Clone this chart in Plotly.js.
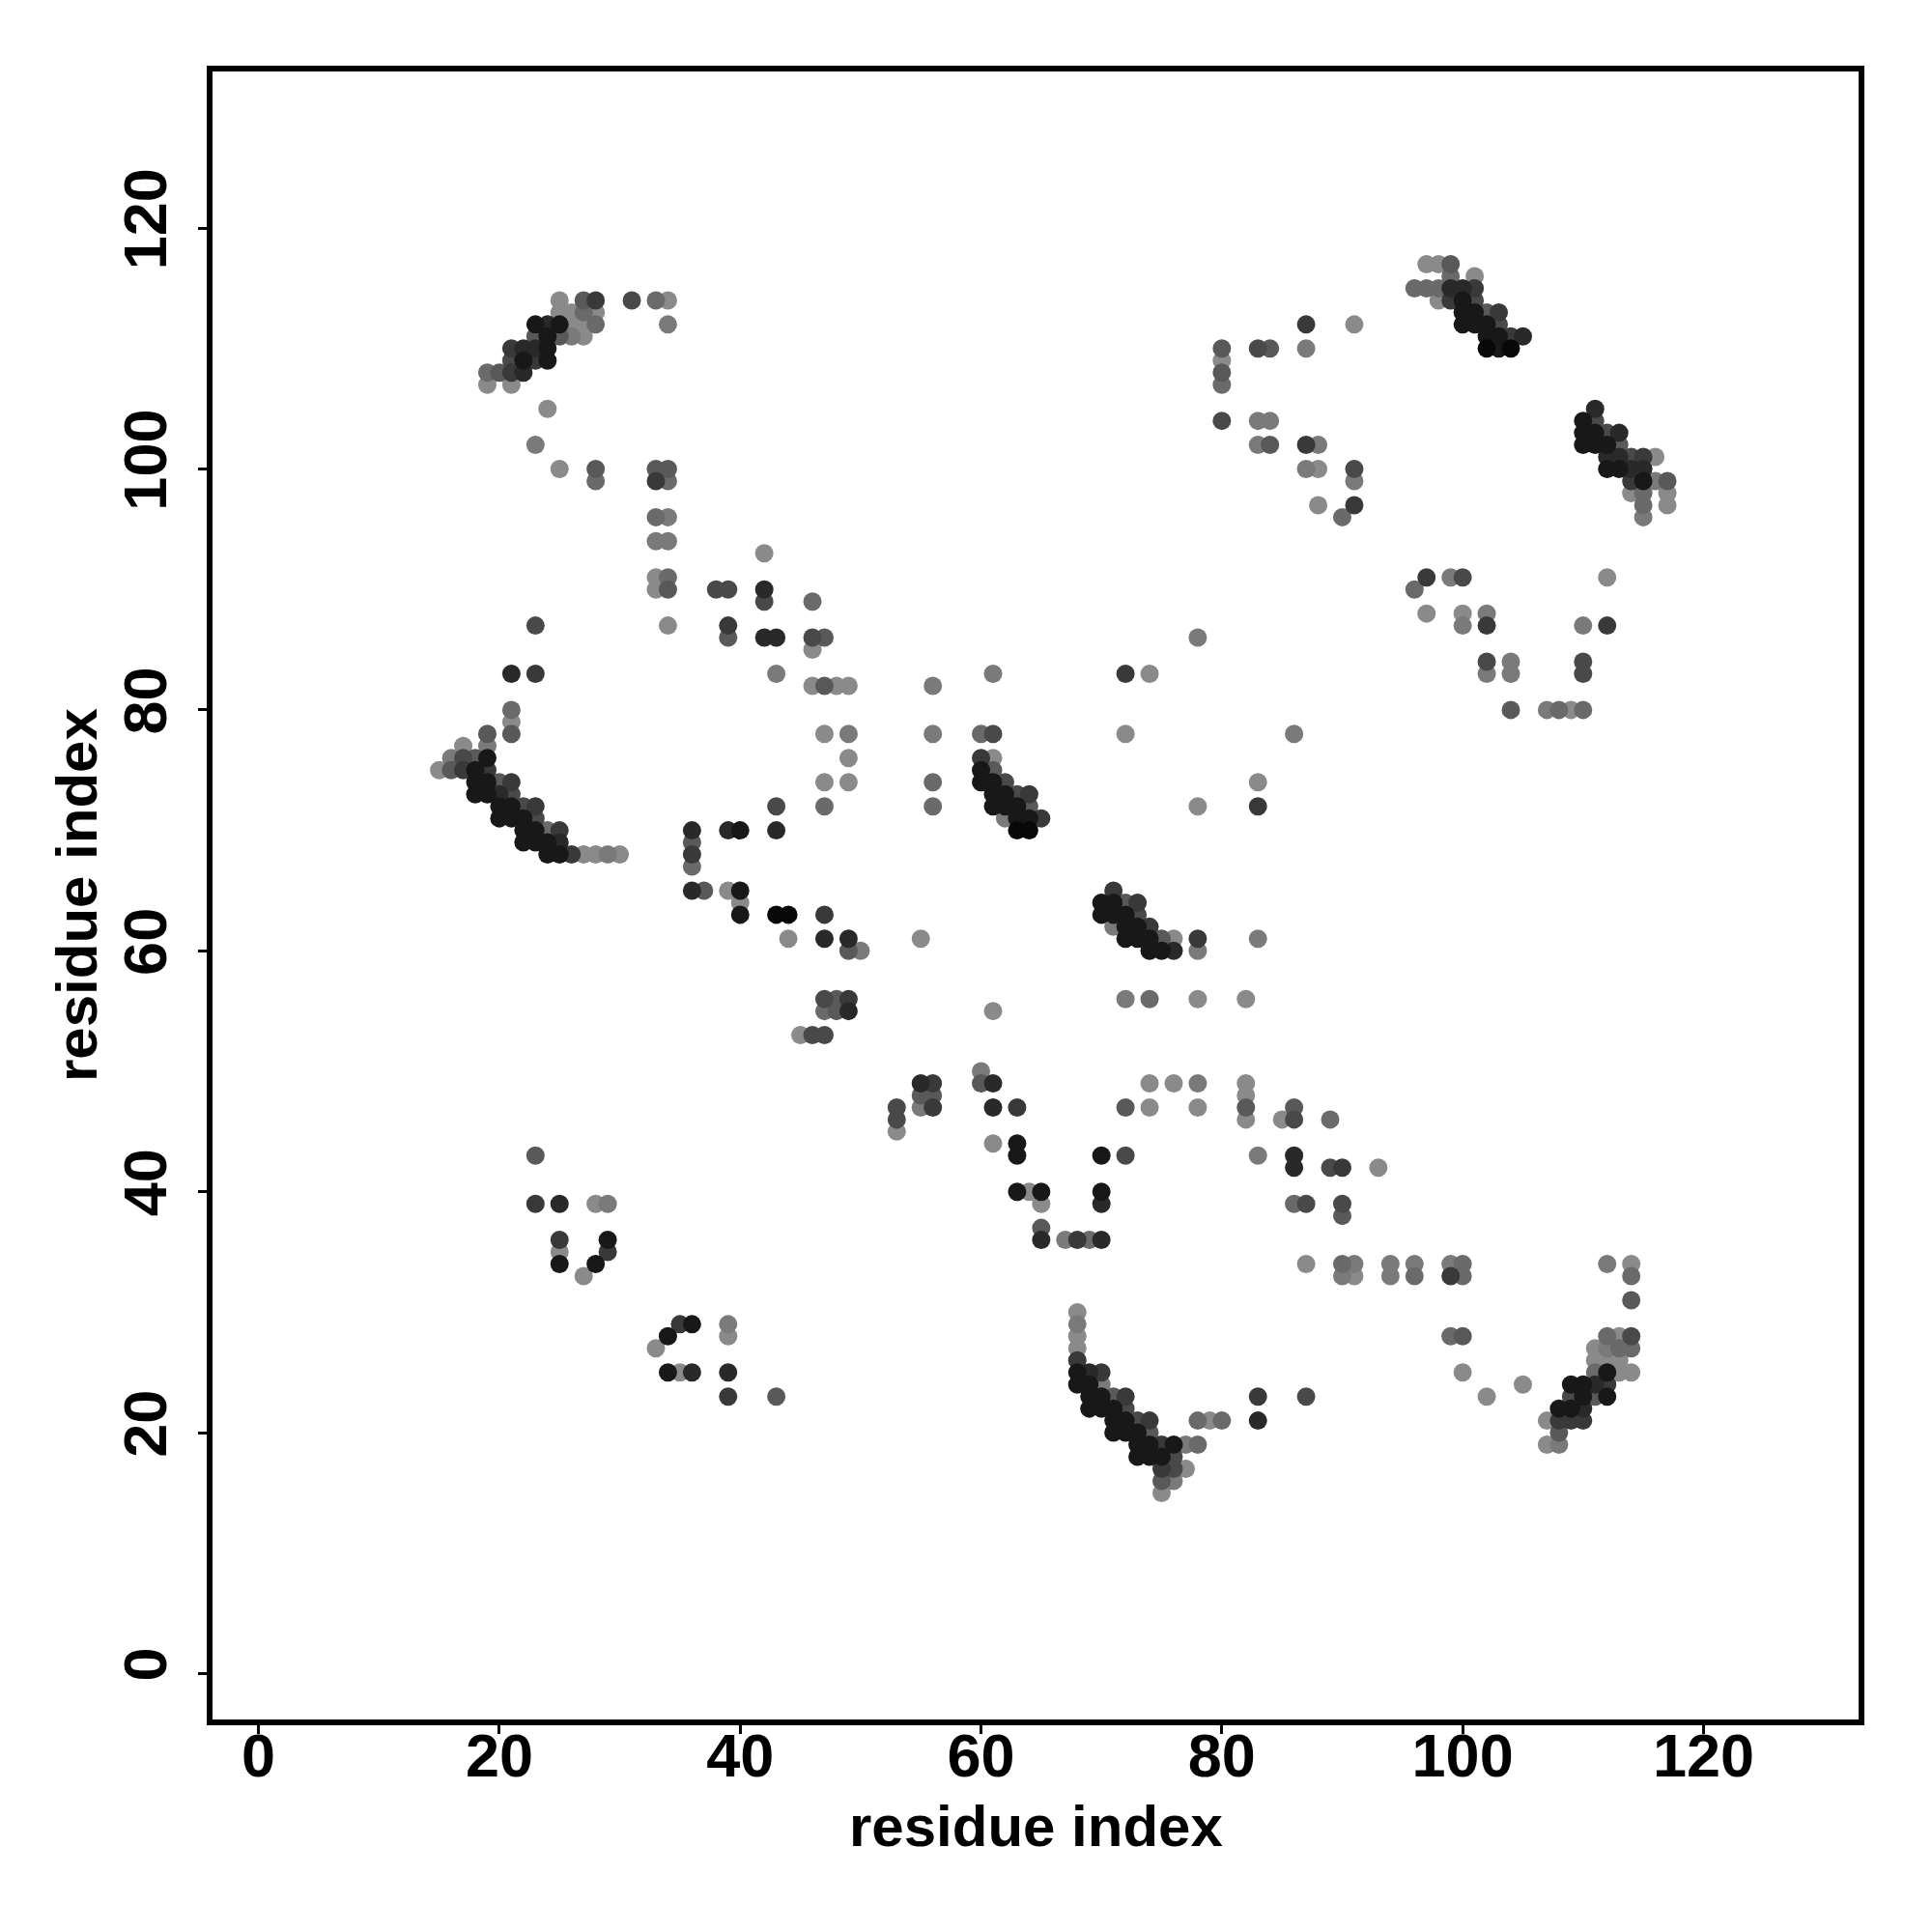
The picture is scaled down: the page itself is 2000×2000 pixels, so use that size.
<!DOCTYPE html>
<html>
<head>
<meta charset="utf-8">
<script src="https://cdn.plot.ly/plotly-3.0.1.min.js"></script>
<style>
  html, body { margin: 0; padding: 0; background: #fff; }
  #chart { width: 2000px; height: 2000px; }
</style>
</head>
<body>
<div id="chart"></div>
<script>
// Contact map: each row is one value of the second residue index (y),
// with the first residue indices (x) and the shade level
// (0 = darkest / strongest, 8 = lightest / weakest).
const rowY = [117,116,115,114,113,112,111,110,109,108,107,105,104,103,102,101,100,99,98,97,96,94,93,91,90,89,88,87,86,85,84,83,82,80,79,78,77,76,75,74,73,72,71,70,69,68,67,65,64,63,62,61,60,56,55,53,50,49,48,47,46,45,44,43,42,40,39,38,37,36,35,34,33,31,30,29,28,27,26,25,24,23,22,21,20,19,18,17,16,15];

const rowX = [
  [97,98,99],
  [99,101],
  [96,97,98,99,100,101],
  [25,27,28,31,33,34,98,99,100,101],
  [25,26,27,28,100,101,102,103],
  [23,24,25,26,27,28,34,87,91,100,101,102,103],
  [23,24,25,26,27,102,103,104,105],
  [21,22,23,24,80,83,84,87,102,103,104],
  [21,22,23,24,80],
  [19,20,21,22,80],
  [19,21,80],
  [24,111],
  [80,83,84,110,111],
  [110,111,112,113],
  [23,83,84,87,88,110,111,112,113],
  [112,113,114,115,116],
  [25,28,33,34,87,88,91,112,113,114,115],
  [28,33,34,91,114,115,116,117],
  [114,115,117],
  [88,91,115,117],
  [33,34,90,115],
  [33,34],
  [42],
  [33,34,97,99,100,112],
  [33,34,38,39,42,96],
  [42,46],
  [97,100,102],
  [23,34,39,100,102,110,112],
  [39,42,43,46,47,78],
  [46],
  [102,104,110],
  [21,23,43,61,72,74,102,104,110],
  [46,47,48,49,56],
  [21,104,107,108,109,110],
  [21],
  [19,21,47,49,56,60,61,72,86],
  [17,19],
  [16,17,18,19,49,60,61],
  [15,16,17,18,19,60,61],
  [18,19,20,21,47,49,56,60,61,62,83],
  [18,19,20,21,61,62,63,64],
  [20,21,22,23,43,47,56,61,62,63,64,78,83],
  [20,21,22,23,62,63,64,65],
  [22,23,24,25,36,39,40,43,63,64],
  [22,23,24,25,36],
  [24,25,26,27,28,29,30,36],
  [36],
  [36,37,39,40,71],
  [40,70,71,72,73],
  [40,43,44,47,70,71,72,73],
  [71,72,73,74],
  [44,47,49,55,72,73,74,75,76,78,83],
  [49,50,74,75,76,78],
  [47,48,49,72,74,78,82],
  [47,48,49,61],
  [45,46,47],
  [60],
  [55,56,60,61,74,76,78,82],
  [55,56,82],
  [53,55,56,61,63,72,74,78,82,86],
  [53,82,85,86,89],
  [53],
  [61,63],
  [23,63,70,72,83,86],
  [86,89,90,93],
  [63,64,65,70],
  [23,25,28,29,65,70,86,87,90],
  [90],
  [65],
  [25,29,65,67,68,69,70],
  [25,29],
  [25,28,87,90,91,94,96,99,100,112,114],
  [27,90,91,94,96,99,100,114],
  [114],
  [68],
  [35,36,39,68],
  [34,39,68,99,100,112,113,114],
  [33,68,111,112,113,114],
  [68,111,112,113],
  [34,35,36,39,68,69,70,100,111,112,113,114],
  [68,69,70,105,109,110,111,112],
  [39,43,69,70,71,72,83,87,102,109,110,111,112],
  [69,70,71,72,108,109,110],
  [71,72,73,74,78,79,80,83,107,108,109,110],
  [71,72,73,74,108],
  [73,74,75,76,77,78,107,108],
  [73,74,75,76],
  [75,76,77],
  [75,76],
  [75]
];

const rowLevel = [
  [8,8,5],
  [6,8],
  [6,6,6,2,2,3],
  [8,5,3,4,6,8,8,3,1,4],
  [8,8,6,8,1,1,5,3],
  [1,2,1,8,8,6,7,3,8,1,1,1,4],
  [5,1,5,7,8,1,1,3,2],
  [3,2,2,1,5,4,5,7,0,1,0],
  [4,1,3,1,8],
  [6,5,3,2,5],
  [8,8,6],
  [8,2],
  [4,7,7,1,4],
  [1,1,4,2],
  [7,7,5,3,7,1,1,1,5],
  [2,2,4,3,8],
  [8,5,5,5,7,8,4,1,1,2,2],
  [6,3,6,7,3,1,7,5],
  [8,6,8],
  [8,3,6,8],
  [6,7,6,7],
  [7,7],
  [8],
  [8,6,3,7,4,8],
  [8,5,4,4,2,6],
  [4,6],
  [8,8,7],
  [4,8,3,7,3,7,3],
  [5,2,2,4,5,7],
  [8],
  [4,7,4],
  [2,3,7,7,3,8,7,7,4],
  [8,5,8,8,7],
  [6,5,7,6,8,6],
  [8],
  [5,5,8,7,7,6,4,8,7],
  [8,7],
  [7,4,5,1,8,3,8],
  [8,5,3,1,3,1,5],
  [1,1,5,3,8,8,6,1,1,4,8],
  [1,1,2,4,1,1,4,3],
  [1,1,4,3,4,6,6,1,1,1,5,8,3],
  [1,1,1,4,7,1,1,3],
  [1,1,6,3,2,2,1,2,0,0],
  [1,1,1,2,5],
  [1,1,3,8,8,7,8,3],
  [6],
  [2,5,8,1,3],
  [8,1,1,5,3],
  [1,0,0,3,1,1,1,4],
  [7,1,1,3],
  [8,2,2,8,1,1,1,5,8,3,7],
  [5,7,1,1,2,7],
  [4,5,3,7,6,8,8],
  [6,5,2,8],
  [8,4,4],
  [7],
  [2,3,5,2,8,8,7,8],
  [5,5,8],
  [4,7,3,2,3,5,8,8,5,5],
  [4,8,8,4,6],
  [8],
  [8,1],
  [5,1,1,4,7,2],
  [2,4,3,8],
  [1,8,1,1],
  [3,2,8,7,8,2,6,4,4],
  [5],
  [5],
  [3,1,2,7,3,6,2],
  [8,3],
  [1,1,8,6,7,7,7,7,6,7,8],
  [8,7,8,7,6,3,6,6],
  [5],
  [8],
  [3,1,7,7],
  [1,8,8,6,5,6,8,4],
  [8,8,8,7,6,6],
  [3,8,8,8],
  [1,8,2,2,1,2,3,8,6,1,8,8],
  [1,1,7,8,1,1,2,3],
  [3,5,1,1,5,3,3,4,8,4,1,5,1],
  [1,1,1,4,1,1,2],
  [1,1,4,3,6,8,6,2,8,3,3,3],
  [1,1,1,5,5],
  [1,1,3,1,7,6,8,7],
  [1,1,1,4],
  [3,4,8],
  [5,7],
  [8]
];

const tickValues = [0, 20, 40, 60, 80, 100, 120];
const axisLabel = 'residue index';

// Flatten rows into point lists; lighter points first so darker ones sit on top.
const pts = [];
rowY.forEach((yv, r) => {
  rowX[r].forEach((xv, k) => pts.push({x: xv, y: yv, lv: rowLevel[r][k]}));
});
pts.sort((a, b) => b.lv - a.lv);

const trace = {
  type: 'scatter',
  mode: 'markers',
  x: pts.map(p => p.x),
  y: pts.map(p => p.y),
  marker: {
    size: 19,
    color: pts.map(p => p.lv),
    cmin: 0,
    cmax: 8,
    colorscale: [[0, 'rgb(8,8,8)'], [1, 'rgb(138,138,138)']],
    showscale: false,
    line: {width: 0}
  },
  hoverinfo: 'x+y'
};

const fontFam = '"Liberation Sans", Arial, Helvetica, sans-serif';
const titleFont = {family: fontFam, size: 60, color: '#000', weight: 'bold'};
function makeAxis(extra) {
  return Object.assign({
    tickvals: tickValues,
    ticktext: tickValues.map(String),
    ticks: 'outside',
    ticklen: 9,
    tickwidth: 3,
    tickcolor: '#000',
    showline: true,
    linewidth: 6,
    linecolor: '#000',
    mirror: true,
    showgrid: false,
    zeroline: false,
    tickfont: {family: fontFam, size: 63, color: '#000', weight: 'bold'},
    automargin: false
  }, extra);
}

const layout = {
  width: 2000,
  height: 2000,
  margin: {l: 220, r: 76, t: 74, b: 220},
  paper_bgcolor: '#fff',
  plot_bgcolor: '#fff',
  showlegend: false,
  xaxis: makeAxis({range: [-3.82, 132.88], ticklabelstandoff: -32}),
  yaxis: makeAxis({range: [-3.81, 133.0], tickangle: -90, ticklabelstandoff: 8}),
  annotations: [
    {text: axisLabel, font: titleFont, showarrow: false,
     xref: 'paper', yref: 'paper', x: 0.5, y: 0, xanchor: 'center', yanchor: 'middle', yshift: -110},
    {text: axisLabel, font: titleFont, showarrow: false, textangle: -90,
     xref: 'paper', yref: 'paper', x: 0, y: 0.5, xanchor: 'center', yanchor: 'middle', xshift: -141}
  ]
};

Plotly.newPlot('chart', [trace], layout, {staticPlot: true, displayModeBar: false});
</script>
</body>
</html>
